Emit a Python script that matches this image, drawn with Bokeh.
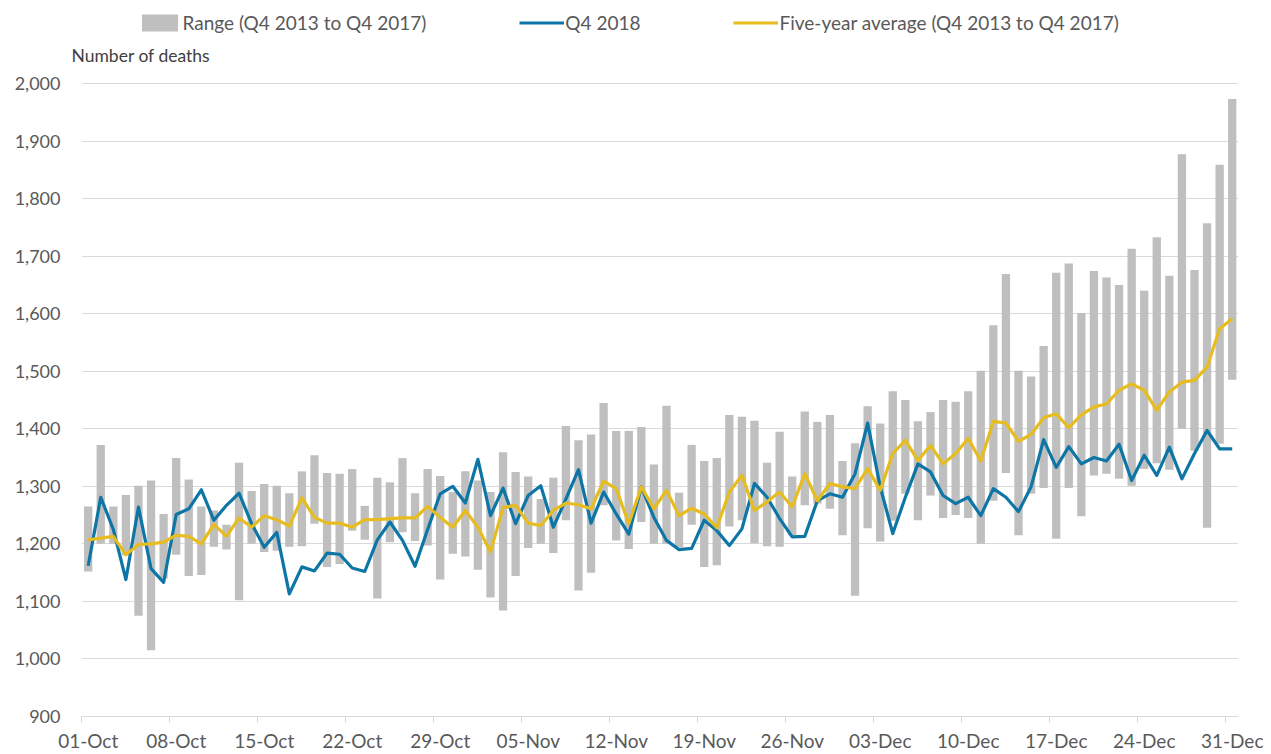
from bokeh.plotting import figure
from bokeh.models import (Range1d, FixedTicker, NumeralTickFormatter, Legend,
                          LegendItem, Label, BoxAnnotation, ColumnDataSource,
                          LinearAxis)
from bokeh.embed import file_html
from bokeh.resources import INLINE

# ---------------- data ----------------
day_index = list(range(92))

range_low = [1152, 1200, 1200, 1180, 1075, 1015, 1140, 1181, 1144, 1146,
             1195, 1190, 1102, 1200, 1186, 1188, 1195, 1196, 1235, 1160,
             1165, 1223, 1207, 1105, 1203, 1220, 1205, 1197, 1138, 1183,
             1178, 1155, 1107, 1084, 1144, 1193, 1200, 1184, 1241, 1119,
             1150, 1267, 1206, 1191, 1238, 1200, 1200, 1194, 1233, 1160,
             1163, 1230, 1241, 1201, 1196, 1195, 1215, 1267, 1270, 1261,
             1215, 1110, 1227, 1204, 1240, 1287, 1241, 1284, 1245, 1250,
             1245, 1200, 1275, 1323, 1215, 1287, 1297, 1209, 1297, 1248,
             1319, 1322, 1313, 1301, 1330, 1340, 1329, 1400, 1362, 1228,
             1374, 1485]

range_high = [1265, 1372, 1265, 1285, 1301, 1310, 1252, 1349, 1312, 1265,
              1258, 1233, 1341, 1292, 1304, 1301, 1288, 1326, 1354, 1323,
              1322, 1330, 1266, 1315, 1307, 1349, 1288, 1330, 1318, 1290,
              1326, 1310, 1290, 1359, 1325, 1317, 1278, 1315, 1405, 1380,
              1390, 1445, 1396, 1396, 1403, 1338, 1440, 1289, 1372, 1344,
              1349, 1424, 1421, 1414, 1341, 1395, 1317, 1430, 1412, 1424,
              1344, 1375, 1439, 1409, 1465, 1450, 1413, 1429, 1450, 1447,
              1465, 1501, 1580, 1669, 1501, 1491, 1544, 1671, 1687, 1601,
              1674, 1663, 1650, 1713, 1640, 1733, 1666, 1877, 1676, 1757,
              1859, 1973]

q4_2018 = [1162, 1281, 1225, 1138, 1264, 1157, 1133, 1251, 1261, 1294,
           1241, 1267, 1288, 1235, 1194, 1220, 1113, 1160, 1153, 1184,
           1182, 1158, 1152, 1207, 1238, 1206, 1161, 1225, 1287, 1300,
           1271, 1347, 1249, 1297, 1235, 1284, 1301, 1229, 1278, 1329,
           1236, 1290, 1252, 1217, 1299, 1246, 1206, 1190, 1192, 1241,
           1223, 1197, 1226, 1305, 1281, 1244, 1212, 1213, 1275, 1287,
           1281, 1322, 1410, 1299, 1218, 1281, 1339, 1325, 1284, 1270,
           1281, 1249, 1296, 1281, 1256, 1299, 1381, 1333, 1369, 1339,
           1350, 1344, 1373, 1310, 1354, 1319, 1368, 1313, 1357, 1397,
           1365, 1365]

five_year_avg = [1207, 1210, 1213, 1181, 1199, 1200, 1203, 1215, 1213, 1200,
                 1234, 1213, 1245, 1229, 1249, 1242, 1231, 1280, 1246, 1236,
                 1236, 1229, 1242, 1242, 1244, 1245, 1245, 1265, 1246, 1229,
                 1258, 1229, 1186, 1263, 1267, 1236, 1232, 1258, 1271, 1268,
                 1261, 1309, 1296, 1235, 1299, 1261, 1293, 1249, 1262, 1252,
                 1228, 1290, 1319, 1258, 1273, 1290, 1264, 1322, 1275, 1305,
                 1299, 1296, 1331, 1293, 1357, 1380, 1345, 1371, 1339, 1357,
                 1383, 1344, 1413, 1410, 1378, 1390, 1419, 1426, 1402, 1424,
                 1438, 1443, 1467, 1478, 1467, 1432, 1464, 1481, 1484, 1507,
                 1574, 1591]

tick_days = [0, 7, 14, 21, 28, 35, 42, 49, 56, 63, 70, 77, 84, 91]
tick_labels = ["01-Oct", "08-Oct", "15-Oct", "22-Oct", "29-Oct", "05-Nov",
               "12-Nov", "19-Nov", "26-Nov", "03-Dec", "10-Dec", "17-Dec",
               "24-Dec", "31-Dec"]
y_ticks = [900, 1000, 1100, 1200, 1300, 1400, 1500, 1600, 1700, 1800, 1900, 2000]

legend_range = "Range (Q4 2013 to Q4 2017)"
legend_2018 = "Q4 2018"
legend_avg = "Five-year average (Q4 2013 to Q4 2017)"
y_title = "Number of deaths"

# ---------------- layout / styling ----------------
FONT = "Lato"
TXT = "#595959"
GRID = "#D9D9D9"
GREY = "#BFBFBF"
BLUE = "#0E76A6"
YELLOW = "#E6BC1E"

FIG_W, FIG_H = 1266, 754
FRAME_LEFT = 70          # frame starts a little left of the first category
CAT_LEFT = 81.4          # pixel where category 0 begins
FRAME_BOTTOM = 716       # pixel of the 900 gridline
TOP_2000 = 83            # pixel of the 2,000 gridline
X_END = 91.5
px_per_day = (FIG_W - 28 - CAT_LEFT) / (X_END + 0.5)
x_start = -0.5 - (CAT_LEFT - FRAME_LEFT) / px_per_day
px_per_unit = (FRAME_BOTTOM - TOP_2000) / (2000 - 900)
y_end = 2000 + TOP_2000 / px_per_unit

src = ColumnDataSource(dict(day=day_index, low=range_low, high=range_high,
                            q4=q4_2018, avg=five_year_avg))

p = figure(width=FIG_W, height=FIG_H, output_backend="svg", toolbar_location=None,
           x_range=Range1d(x_start, X_END), y_range=Range1d(900, y_end),
           min_border_left=FRAME_LEFT, min_border_right=28, min_border_top=0,
           min_border_bottom=0)
p.outline_line_color = None
p.background_fill_color = "white"
p.border_fill_color = "white"

bars = p.vbar(x="day", bottom="low", top="high", width=0.66, source=src,
              fill_color=GREY, line_color=None)
l_blue = p.line(x="day", y="q4", source=src, line_color=BLUE, line_width=3.2,
                line_join="round")
l_yel = p.line(x="day", y="avg", source=src, line_color=YELLOW, line_width=3.2,
               line_join="round")

# x axis 1: axis line + tick marks on the category boundaries (no labels)
xa = p.xaxis[0]
xa.ticker = FixedTicker(ticks=[d - 0.5 for d in tick_days])
xa.bounds = (-0.5, X_END)
xa.axis_line_color = GRID
xa.major_tick_line_color = GRID
xa.major_tick_out = 6
xa.major_tick_in = 0
xa.minor_tick_line_color = None
xa.major_label_standoff = 0
xa.major_label_text_font_size = "0px"
xa.major_label_text_color = None

# x axis 2: the date labels, centred on their categories
xa2 = LinearAxis(ticker=FixedTicker(ticks=tick_days),
                 major_label_overrides={d: lab for d, lab in zip(tick_days, tick_labels)},
                 axis_line_color=None, major_tick_line_color=None,
                 minor_tick_line_color=None, major_tick_out=0, major_tick_in=0,
                 major_label_standoff=6, major_label_text_font=FONT,
                 major_label_text_font_size="19px", major_label_text_color=TXT)
p.add_layout(xa2, "below")

ya = p.yaxis[0]
ya.ticker = FixedTicker(ticks=y_ticks)
ya.formatter = NumeralTickFormatter(format="0,0")
ya.axis_line_color = None
ya.major_tick_line_color = None
ya.minor_tick_line_color = None
ya.major_tick_out = 0
ya.major_tick_in = 0
ya.major_label_standoff = 10
ya.major_label_text_font = FONT
ya.major_label_text_font_size = "18px"
ya.major_label_text_color = TXT

p.xgrid.grid_line_color = None
p.ygrid.ticker = FixedTicker(ticks=y_ticks)
p.ygrid.grid_line_color = GRID
p.ygrid.grid_line_width = 1

# white strip left of the first category so the gridlines start at the category edge
p.add_layout(BoxAnnotation(right=-0.5, fill_color="white", fill_alpha=1.0,
                           line_color=None))

# "Number of deaths"
p.add_layout(Label(x=1, y=FRAME_BOTTOM - 55, x_units="screen", y_units="screen",
                   text=y_title, text_font=FONT, text_font_size="17.5px",
                   text_color="#404040", text_baseline="middle",
                   text_align="left"))

# legend across the top
legend = Legend(items=[LegendItem(label=legend_range, renderers=[bars]),
                       LegendItem(label=legend_2018, renderers=[l_blue]),
                       LegendItem(label=legend_avg, renderers=[l_yel])],
                location=(136.5 - FRAME_LEFT, FRAME_BOTTOM - 22 - 12),
                orientation="horizontal",
                glyph_width=45, glyph_height=21, label_standoff=1, spacing=93,
                label_text_font=FONT, label_text_font_size="19px",
                label_text_color=TXT, label_text_baseline="middle",
                border_line_color=None, background_fill_alpha=0,
                padding=0, margin=0)
p.add_layout(legend, "center")

open("out.html", "w").write(file_html(p, INLINE))
